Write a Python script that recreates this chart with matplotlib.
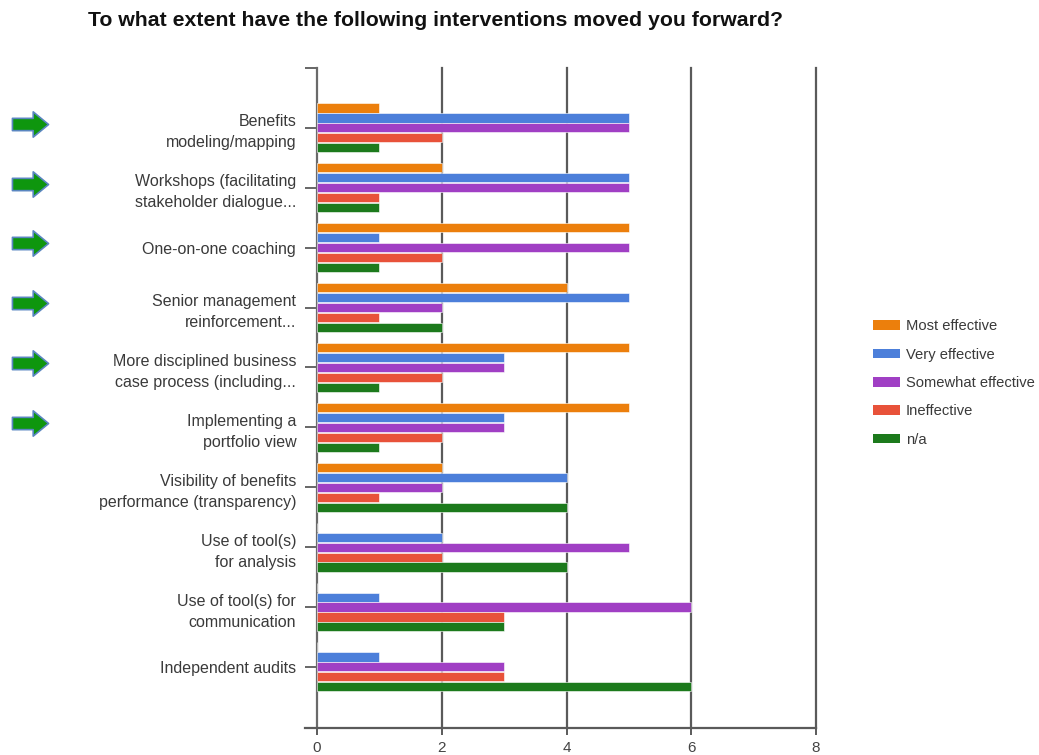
import numpy as np
import matplotlib
matplotlib.use("Agg")
import matplotlib.pyplot as plt
from matplotlib.patches import Patch
from matplotlib.path import Path
import matplotlib.transforms as mtransforms

plt.rcParams["font.family"] = ["Liberation Sans", "DejaVu Sans"]

categories = [
    "Benefits\nmodeling/mapping",
    "Workshops (facilitating\nstakeholder dialogue...",
    "One-on-one coaching",
    "Senior management\nreinforcement...",
    "More disciplined business\ncase process (including...",
    "Implementing a\nportfolio view",
    "Visibility of benefits\nperformance (transparency)",
    "Use of tool(s)\nfor analysis",
    "Use of tool(s) for\ncommunication",
    "Independent audits",
]
series_names = ["Most effective", "Very effective", "Somewhat effective", "Ineffective", "n/a"]
most_effective     = [1, 2, 5, 4, 5, 5, 2, 0, 0, 0]
very_effective     = [5, 5, 1, 5, 3, 3, 4, 2, 1, 1]
somewhat_effective = [5, 5, 5, 2, 3, 3, 2, 5, 6, 3]
ineffective        = [2, 1, 2, 1, 2, 2, 1, 2, 3, 3]
not_applicable     = [1, 1, 1, 2, 1, 1, 4, 4, 3, 6]
highlighted = [True, True, True, True, True, True, False, False, False, False]
x_ticks = [0, 2, 4, 6, 8]

colors = ["#ec7f0c", "#4c7fda", "#a03fc4", "#e8523a", "#1c7a1c"]
values = [most_effective, very_effective, somewhat_effective, ineffective, not_applicable]

fig = plt.figure(figsize=(10.39, 7.55), dpi=100)
ax = fig.add_axes([317 / 1039, 1 - 728 / 755, (816 - 317) / 1039, (728 - 68) / 755])

y = np.arange(len(categories))
slot = 0.166
bar_h = 0.152
for j, (vals, col) in enumerate(zip(values, colors)):
    ax.barh(y + (j - 2) * slot, vals, height=bar_h, color=col,
            edgecolor="white", linewidth=0.4, zorder=3)

ax.set_xlim(0, 8)
ax.set_ylim(10.02, -1.0)

# vertical gridlines
for xv in x_ticks[1:]:
    ax.axvline(xv, color="#5a5a5a", linewidth=1.6, zorder=1, clip_on=False)

for s in ["top", "right", "bottom"]:
    ax.spines[s].set_visible(False)
ax.spines["left"].set_color("#6a6a6a")
ax.spines["left"].set_linewidth(1.6)

# baseline extending slightly past the left axis
ax.plot([-0.024, 1.0], [0, 0], transform=ax.transAxes, color="#5a5a5a",
        linewidth=1.6, clip_on=False, zorder=4)

ax.set_xticks(x_ticks)
ax.set_xticklabels([str(v) for v in x_ticks], fontsize=11, color="#444444")
ax.tick_params(axis="x", length=5, width=1.4, color="#5a5a5a", pad=4)

ax.set_yticks(list(y) + [-1.0])
ax.set_yticklabels(categories + [""], fontsize=11.5, color="#3a3a3a", linespacing=1.5)
ax.tick_params(axis="y", length=9, width=1.3, color="#5a5a5a", pad=6)

fig.text(88 / 1039, 1 - 20 / 755, "To what extent have the following interventions moved you forward?",
         fontsize=15.3, fontweight="bold", color="#111111", va="center", ha="left")

# block-arrow marker for highlighted interventions
arrow_verts = [(-1.0, -0.34), (0.15, -0.34), (0.15, -0.7), (1.0, 0.0),
               (0.15, 0.7), (0.15, 0.34), (-1.0, 0.34), (-1.0, -0.34)]
arrow_codes = [Path.MOVETO] + [Path.LINETO] * 6 + [Path.CLOSEPOLY]
arrow_marker = Path(arrow_verts, arrow_codes)
trans = mtransforms.blended_transform_factory(fig.transFigure, ax.transData)
for yi, flag in zip(y, highlighted):
    if flag:
        ax.plot([30 / 1039], [yi - 0.07], marker=arrow_marker, markersize=26,
                markerfacecolor="#0e960e", markeredgecolor="#5a86c0",
                markeredgewidth=1.2, transform=trans, clip_on=False, zorder=5)

handles = [Patch(facecolor=c, edgecolor="none") for c in colors]
fig.legend(handles, series_names, loc="center left",
           bbox_to_anchor=(860 / 1039, 1 - 383 / 755), frameon=False,
           fontsize=10.6, handlelength=1.8, handleheight=0.62,
           labelspacing=0.98, handletextpad=0.4, labelcolor="#3a3a3a")

fig.savefig("out.png", dpi=100)
